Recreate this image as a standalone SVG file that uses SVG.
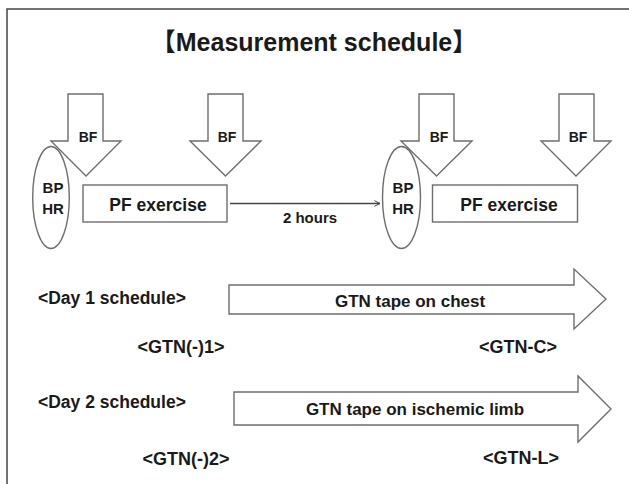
<svg xmlns="http://www.w3.org/2000/svg" width="629" height="484" viewBox="0 0 629 484">
<style>
.t{font-family:"Liberation Sans","Noto Sans CJK JP",sans-serif;font-weight:bold;fill:#1a1a1a}
.s{fill:#fff;stroke:#6e6e6e;stroke-width:1.4}
.e{fill:none;stroke:#6e6e6e;stroke-width:1.4}
</style>
<defs>
<marker id="ah" viewBox="0 0 10 10" refX="9" refY="5" markerWidth="7" markerHeight="7" markerUnits="userSpaceOnUse" orient="auto">
<path d="M1,1 L9,5 L1,9" fill="none" stroke="#444" stroke-width="1.4"/>
</marker>
</defs>
<rect width="629" height="484" fill="#fff"/>
<rect x="7" y="9" width="640" height="500" fill="none" stroke="#444" stroke-width="1.5"/>
<text class="t" x="314" y="51" font-size="25" text-anchor="middle">【Measurement schedule】</text>

<g id="bf1"><path class="s" d="M68,94 H103 V141 H121 L86,176 L51,141 H68 Z"/><text class="t" x="88" y="142" font-size="14" text-anchor="middle">BF</text></g>
<g id="bf2"><path class="s" d="M208,94 H243 V141 H261 L225.5,176 L190,141 H208 Z"/><text class="t" x="227" y="142" font-size="14" text-anchor="middle">BF</text></g>
<g id="bf3"><path class="s" d="M419,94 H454 V141 H472 L436.5,176 L401,141 H419 Z"/><text class="t" x="439" y="142" font-size="14" text-anchor="middle">BF</text></g>
<g id="bf4"><path class="s" d="M559,94 H594 V141 H611 L576,176 L541,141 H559 Z"/><text class="t" x="578" y="142" font-size="14" text-anchor="middle">BF</text></g>

<g id="bphr1"><ellipse class="e" cx="51" cy="197.5" rx="18.3" ry="51"/><text class="t" x="53" y="193" font-size="15" text-anchor="middle">BP</text><text class="t" x="53" y="214" font-size="15" text-anchor="middle">HR</text></g>
<g id="bphr2"><ellipse class="e" cx="401.5" cy="197.5" rx="19" ry="51"/><text class="t" x="403" y="193" font-size="15" text-anchor="middle">BP</text><text class="t" x="403" y="214" font-size="15" text-anchor="middle">HR</text></g>

<g id="pf1"><rect class="s" x="83" y="185" width="144" height="37"/><text class="t" x="158" y="211" font-size="17.5" text-anchor="middle">PF exercise</text></g>
<g id="pf2"><rect class="s" x="432.5" y="185" width="145" height="37"/><text class="t" x="509" y="211" font-size="17.5" text-anchor="middle">PF exercise</text></g>

<g id="connectors">
<line x1="230" y1="203.5" x2="380" y2="203.5" stroke="#444" stroke-width="1.4" marker-end="url(#ah)"/>
<text class="t" x="310" y="223" font-size="15" text-anchor="middle">2 hours</text>
</g>

<g id="day1">
<text class="t" x="38" y="304" font-size="17.5">&lt;Day 1 schedule&gt;</text>
<path class="s" d="M229,285 H574 V269 L606,299 L574,329 V314 H229 Z"/>
<text class="t" x="410" y="307" font-size="17" text-anchor="middle">GTN tape on chest</text>
<text class="t" x="181" y="353" font-size="18" text-anchor="middle">&lt;GTN(-)1&gt;</text>
<text class="t" x="518" y="353" font-size="18" text-anchor="middle">&lt;GTN-C&gt;</text>
</g>

<g id="day2">
<text class="t" x="38" y="408" font-size="17.5">&lt;Day 2 schedule&gt;</text>
<path class="s" d="M234,392 H578 V376 L611,409 L578,442 V425 H234 Z"/>
<text class="t" x="415" y="415" font-size="17" text-anchor="middle">GTN tape on ischemic limb</text>
<text class="t" x="186" y="465" font-size="18" text-anchor="middle">&lt;GTN(-)2&gt;</text>
<text class="t" x="521" y="464" font-size="18" text-anchor="middle">&lt;GTN-L&gt;</text>
</g>
</svg>
